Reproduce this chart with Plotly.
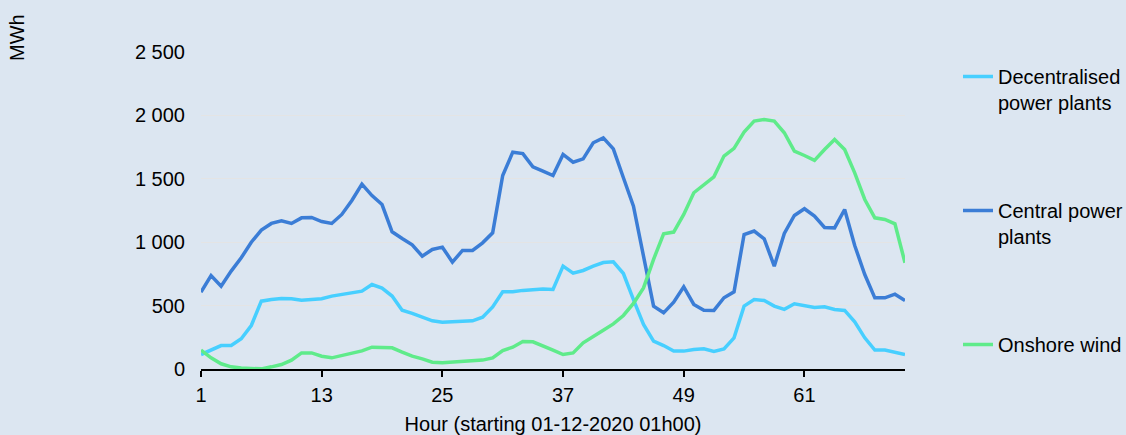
import plotly.graph_objects as go

hours = list(range(1, 72))

decentralised = [114, 146, 185, 185, 238, 343, 535, 548, 556, 554, 543, 548, 554, 575, 590, 606, 614, 666, 638, 575,
                 464, 438, 409, 380, 369, 372, 372, 380, 409, 490, 609, 609, 620, 627, 630, 627, 811, 756, 777, 811,
                 840, 845, 753, 548, 351, 220, 185, 141, 141, 154, 159, 138, 159, 246, 496, 548, 540, 496, 470, 514,
                 501, 485, 490, 470, 462, 372, 246, 149, 149, 133, 114]

central = [606, 737, 653, 772, 877, 1000, 1095, 1148, 1169, 1148, 1192, 1195, 1163, 1148, 1219, 1329, 1458, 1368, 1297, 1082,
           1029, 979, 890, 943, 961, 843, 935, 935, 995, 1074, 1526, 1710, 1699, 1594, 1560, 1526, 1692, 1631, 1657, 1784,
           1823, 1736, 1508, 1284, 890, 496, 443, 527, 648, 509, 464, 462, 562, 609, 1061, 1088, 1027, 811, 1069, 1211,
           1264, 1206, 1116, 1113, 1258, 974, 745, 561, 561, 590, 540]

onshore = [149, 88, 41, 17, 7, 1, 1, 17, 35, 70, 127, 127, 101, 88, 106, 127, 143, 172, 172, 167,
           133, 101, 80, 54, 49, 54, 62, 70, 70, 88, 146, 172, 217, 214, 185, 149, 114, 127, 206, 259,
           306, 356, 422, 517, 640, 865, 1066, 1080, 1219, 1390, 1455, 1516, 1679, 1740, 1868, 1955, 1968, 1955, 1863, 1718,
           1684, 1645, 1731, 1810, 1731, 1547, 1337, 1192, 1179, 1145, 837]

series_names = ["Decentralised<br>power plants", "Central power<br>plants", "Onshore wind"]
series_values = [decentralised, central, onshore]
series_colors = ["#47CFFF", "#3B7DD6", "#5FEB8A"]

x_tickvals = [1, 13, 25, 37, 49, 61]
y_tickvals = [0, 500, 1000, 1500, 2000, 2500]

FONT = "Arial, Liberation Sans, sans-serif"
FS = 20
BG = "#DCE6F1"

fig = go.Figure()
for i, (name, vals, col) in enumerate(zip(series_names, series_values, series_colors)):
    fig.add_trace(go.Scatter(
        x=hours, y=vals, name=name, mode="lines",
        line=dict(color=col, width=3.5),
        legendgroup=f"g{i}",
    ))

fig.update_layout(
    width=1126, height=435,
    paper_bgcolor=BG, plot_bgcolor=BG,
    font=dict(family=FONT, size=FS, color="#000000"),
    margin=dict(l=201, r=221, t=52, b=65.5, pad=0),
    separators=". ",
    showlegend=True,
    legend=dict(
        xref="container", yref="container",
        x=958 / 1126, y=1 - 57 / 435, xanchor="left", yanchor="top",
        bgcolor="rgba(0,0,0,0)",
        font=dict(family=FONT, size=FS, color="#000000"),
        valign="top",
        traceorder="grouped",
        tracegroupgap=79,
        itemwidth=30,
        maxheight=420,
    ),
    xaxis=dict(
        range=[1, 71],
        tickvals=x_tickvals,
        automargin=False,
        showgrid=False, zeroline=False,
        showline=True, linecolor="#000000", linewidth=1.5,
        ticks="outside", ticklen=6, tickcolor="#000000", tickwidth=1.5,
        ticklabelstandoff=1,
        title=dict(text="Hour (starting 01-12-2020 01h00)", standoff=14,
                   font=dict(family=FONT, size=FS, color="#000000")),
    ),
    yaxis=dict(
        range=[0, 2500],
        tickvals=y_tickvals,
        tickformat=",d",
        separatethousands=True,
        automargin=False,
        showgrid=True, gridcolor="#E4E4E4", gridwidth=1,
        zeroline=False, showline=False, ticks="",
        ticklabelstandoff=15,
    ),
    annotations=[dict(
        text="MWh", xref="paper", yref="paper",
        x=(16.5 - 201) / 704, y=1 + (52 - 37.5) / 317.5,
        xanchor="center", yanchor="middle",
        textangle=-90, showarrow=False,
        font=dict(family=FONT, size=FS, color="#000000"),
    )],
)

fig.write_html("out.html", config={"displayModeBar": False},
               post_script="document.body.style.margin='0';document.body.style.overflow='hidden';")
